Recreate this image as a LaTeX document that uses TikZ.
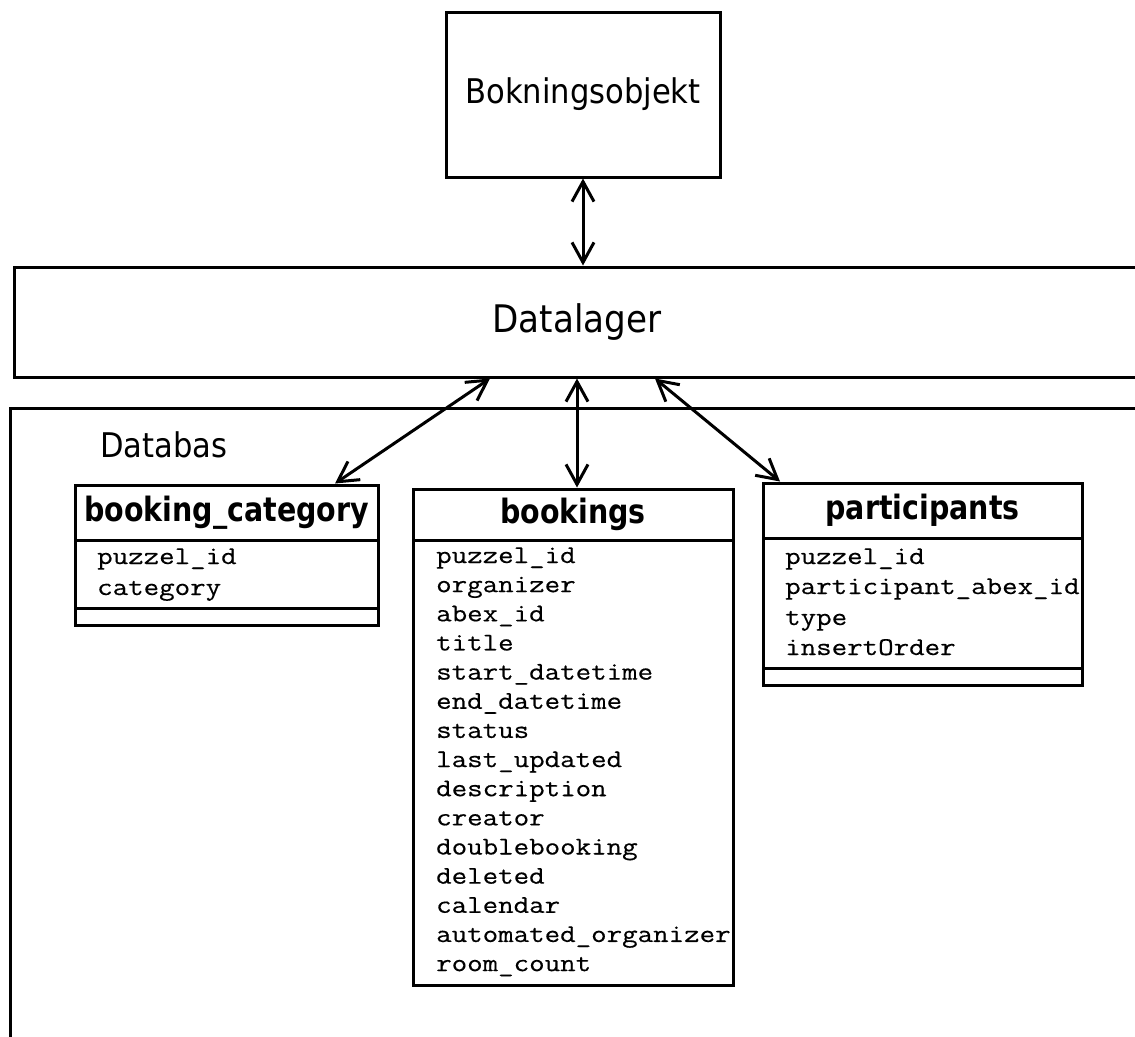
\documentclass[tikz,border=0pt]{standalone}
\usepackage{fontspec}
\setmainfont{DejaVu Sans}
\newfontfamily\labelfont[FakeStretch=0.9]{DejaVu Sans}
\newfontfamily\headfont[FakeStretch=0.85]{DejaVu Sans}
\newfontfamily\colfont[FakeStretch=1.18,FakeBold=0.4]{Latin Modern Mono}
\usetikzlibrary{arrows.meta}

\begin{document}
\begin{tikzpicture}[x=1pt,y=-1pt,
  box/.style={draw, line width=3pt, inner sep=0pt},
  barb/.tip={Straight Barb[length=20pt,width=22pt]},
  link/.style={line width=3pt, barb-barb},
  title/.style={font=\labelfont\fontsize{34}{40}\selectfont},
  tblhead/.style={font=\headfont\bfseries\fontsize{33.5}{38}\selectfont},
  col/.style={anchor=base west, inner sep=0pt, font=\colfont\fontsize{25.5}{30}\selectfont}]

\useasboundingbox (0,0) rectangle (1135,1036);
\clip (0,0) rectangle (1135,1036);

% top level components
\node[box, title, minimum width=274pt, minimum height=165pt] (bo) at (583,94.5) {Bokningsobjekt};
\node[box, font=\labelfont\fontsize{38}{44}\selectfont, minimum width=1126pt, minimum height=110pt] (dl) at (577,322) {Datalager};

% database frame
\node[box, minimum width=1140pt, minimum height=642pt] (db) at (580,729) {};
\node[title, anchor=base west, inner sep=0pt] (dbl) at (100,457) {Databas};

% table booking_category
\node[box, tblhead, minimum width=303pt, minimum height=55pt] (bch) at (226.5,512.5) {booking\_category};
\node[box, minimum width=303pt, minimum height=68pt] (bcb) at (226.5,574) {};
\node[box, minimum width=303pt, minimum height=17pt] (bcf) at (226.5,616.5) {};
\node[col] (bc1) at (97,564) {puzzel\_id};
\node[col] (bc2) at (97,595) {category};

% table bookings
\node[box, tblhead, minimum width=320pt, minimum height=51pt] (bkh) at (573,514.5) {bookings};
\node[box, minimum width=320pt, minimum height=445pt] (bkb) at (573,762.5) {};
\foreach \t [count=\i from 0] in {puzzel\_id, organizer, abex\_id, title,
    start\_datetime, end\_datetime, status, last\_updated, description,
    creator, doublebooking, deleted, calendar, automated\_organizer, room\_count}
  \node[col] (bk\i) at (436,563+29.15*\i) {\t};

% table participants
\node[box, tblhead, minimum width=319pt, minimum height=55pt] (pth) at (922.5,510.5) {participants};
\node[box, minimum width=319pt, minimum height=130pt] (ptb) at (922.5,603) {};
\node[box, minimum width=319pt, minimum height=17pt] (ptf) at (922.5,676.5) {};
\node[col] (pt1) at (785,564) {puzzel\_id};
\node[col] (pt2) at (785,594) {participant\_abex\_id};
\node[col] (pt3) at (785,625) {type};
\node[col] (pt4) at (785,655) {insertOrder};

% connectors
\draw[link] (bo.south) -- (bo.south |- dl.north);
\draw[link] ([xshift=-87pt]dl.south) -- ([xshift=108.5pt]bch.north);
\draw[link] (dl.south) -- (dl.south |- bkh.north);
\draw[link] ([xshift=78pt]dl.south) -- ([xshift=-142.5pt]pth.north);
\end{tikzpicture}
\end{document}
